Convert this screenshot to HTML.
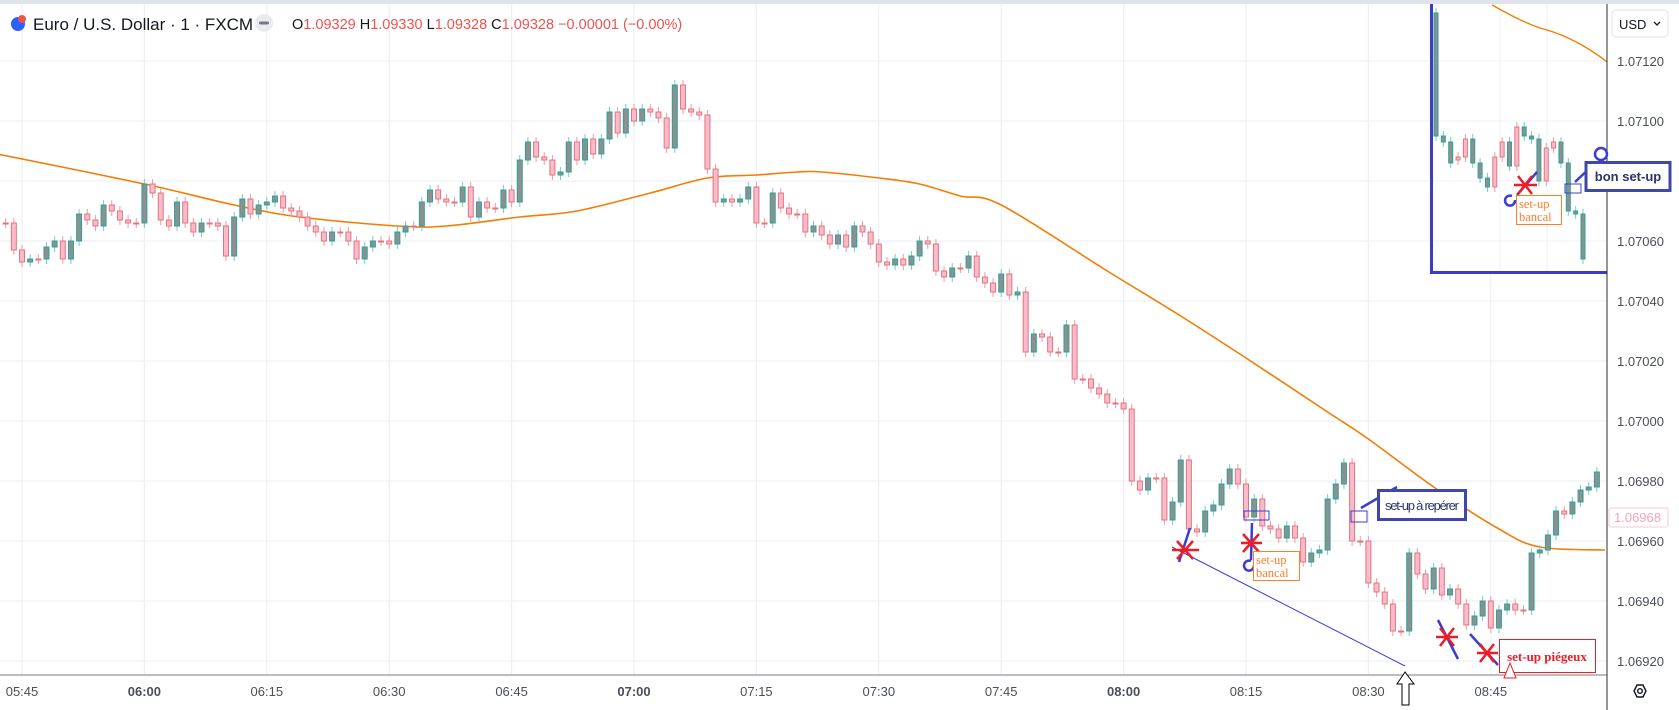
<!DOCTYPE html>
<html><head><meta charset="utf-8"><style>
html,body{margin:0;padding:0;background:#fff;width:1679px;height:710px;overflow:hidden;font-family:"Liberation Sans",sans-serif}
svg{display:block}
</style></head><body>
<svg id="chart" width="1679" height="710" viewBox="0 0 1679 710" xmlns="http://www.w3.org/2000/svg">
<rect x="0" y="0" width="1679" height="710" fill="#fff"/>
<g id="grid"></g>
<g id="ma"></g>
<g id="candles"></g>
<g id="inset"></g>
<g id="axes"></g>
<g id="annot"></g>
<rect x="0" y="0" width="1679" height="4" fill="#e0e3eb"/>
<g>
 <circle cx="18" cy="24" r="7" fill="#2962ff"/>
 <circle cx="22" cy="19" r="4" fill="#ef5350"/>
 <text x="33" y="30" font-size="17" fill="#131722">Euro / U.S. Dollar · 1 · FXCM</text>
 <circle cx="264" cy="23" r="9" fill="#e9ebef"/>
 <rect x="259" y="21.5" width="10" height="3" rx="1.5" fill="#787b86"/>
 <text x="292" y="29" font-size="14.5" fill="#131722">O<tspan fill="#ef5350">1.09329</tspan> H<tspan fill="#ef5350">1.09330</tspan> L<tspan fill="#ef5350">1.09328</tspan> C<tspan fill="#ef5350">1.09328 −0.00001 (−0.00%)</tspan></text>
</g>
<g>
 <rect x="1612" y="10" width="56" height="27" rx="4" fill="#fff" stroke="#e0e3eb"/>
 <text x="1619" y="29" font-size="13" fill="#131722">USD</text>
 <path d="M1654 22 l3 3 l3 -3" fill="none" stroke="#131722" stroke-width="1.3"/>
</g>
</svg>
<script>
const closes=[1.07066,1.07057,1.07053,1.07054,1.07054,1.07058,1.07060,1.07054,1.07060,1.07069,1.07067,1.07065,1.07072,1.07070,1.07067,1.07066,1.07066,1.07079,1.07076,1.07067,1.07065,1.07073,1.07066,1.07063,1.07066,1.07066,1.07065,1.07055,1.07068,1.07074,1.07069,1.07072,1.07073,1.07075,1.07071,1.07070,1.07068,1.07065,1.07063,1.07060,1.07063,1.07063,1.07060,1.07054,1.07058,1.07060,1.07060,1.07059,1.07063,1.07065,1.07065,1.07073,1.07077,1.07074,1.07073,1.07073,1.07078,1.07068,1.07073,1.07071,1.07071,1.07077,1.07073,1.07087,1.07093,1.07088,1.07087,1.07082,1.07083,1.07093,1.07087,1.07094,1.07089,1.07094,1.07103,1.07096,1.07104,1.07100,1.07104,1.07103,1.07101,1.07091,1.07112,1.07104,1.07103,1.07102,1.07084,1.07073,1.07074,1.07073,1.07074,1.07078,1.07066,1.07066,1.07076,1.07071,1.07069,1.07069,1.07063,1.07065,1.07062,1.07059,1.07062,1.07058,1.07065,1.07063,1.07059,1.07053,1.07052,1.07054,1.07052,1.07055,1.07060,1.07059,1.07050,1.07048,1.07051,1.07051,1.07055,1.07048,1.07046,1.07043,1.07049,1.07042,1.07043,1.07023,1.07029,1.07028,1.07023,1.07023,1.07032,1.07014,1.07014,1.07011,1.07009,1.07006,1.07006,1.07004,1.06980,1.06977,1.06981,1.06981,1.06967,1.06973,1.06987,1.06964,1.06963,1.06970,1.06972,1.06979,1.06984,1.06979,1.06968,1.06974,1.06965,1.06964,1.06961,1.06965,1.06961,1.06953,1.06956,1.06957,1.06974,1.06979,1.06986,1.06960,1.06960,1.06946,1.06943,1.06939,1.06930,1.06930,1.06956,1.06949,1.06944,1.06951,1.06942,1.06944,1.06939,1.06932,1.06935,1.06940,1.06931,1.06937,1.06939,1.06937,1.06937,1.06956,1.06957,1.06962,1.06970,1.06969,1.06973,1.06977,1.06978,1.06983];
const firstOpen=1.07066;
const firstMinute=-2; // minutes after 05:45
const maMinutes=[-3,15,26,34,46,52,61,68,77,84,90,95,98,105,110,115,120,133,142,150,160,165,173,181,186,194];
const maValues=[1.07089,1.07079,1.07072,1.07068,1.07065,1.07065,1.07068,1.07070,1.07076,1.07081,1.07082,1.07083,1.07083,1.07081,1.07079,1.07075,1.07072,1.07050,1.07035,1.07021,1.07003,1.06994,1.06978,1.06964,1.06958,1.06957];
const timeLabels=["05:45","06:00","06:15","06:30","06:45","07:00","07:15","07:30","07:45","08:00","08:15","08:30","08:45"];
const priceTicks=[1.07120,1.07100,1.07080,1.07060,1.07040,1.07020,1.07000,1.06980,1.06960,1.06940,1.06920];
const insetOpens=[1.07095,1.07093,1.07086,1.07088,1.07094,1.07086,1.07081,1.07078,1.07088,1.07093,1.07085,1.07098,1.07095,1.07094,1.07080,1.07091,1.07093,1.07086,1.07070,1.07069,1.07054];
const insetCloses=[1.07136,1.07095,1.07093,1.07087,1.07088,1.07094,1.07086,1.07081,1.07078,1.07088,1.07093,1.07085,1.07098,1.07095,1.07094,1.07080,1.07091,1.07093,1.07086,1.07070,1.07069];
const lastPriceLabel="1.06968";

const NS="http://www.w3.org/2000/svg";
const X=m=>22+m*8.16;
const Y=p=>61+(1.0712-p)*300000;
function mk(tag,attrs,parent,text){const e=document.createElementNS(NS,tag);for(const k in attrs)e.setAttribute(k,attrs[k]);if(text!==undefined)e.textContent=text;parent.appendChild(e);return e;}
const grid=document.getElementById('grid'),axes=document.getElementById('axes'),cg=document.getElementById('candles'),mag=document.getElementById('ma'),ins=document.getElementById('inset'),an=document.getElementById('annot');

priceTicks.forEach(p=>{const l=mk('line',{x1:0,x2:1607,y1:Y(p),y2:Y(p),stroke:'#edf1f5','stroke-width':1.2},grid);

});
timeLabels.forEach((t,i)=>{const l=mk('line',{x1:X(i*15),x2:X(i*15),y1:4,y2:675,stroke:'#edf1f5','stroke-width':1.2},grid);

});

// MA (Catmull-Rom smoothing)
const pts=maMinutes.map((m,i)=>[X(m),Y(maValues[i])]);
let d='M'+pts[0][0].toFixed(1)+' '+pts[0][1].toFixed(1);
for(let i=0;i<pts.length-1;i++){const p0=pts[Math.max(0,i-1)],p1=pts[i],p2=pts[i+1],p3=pts[Math.min(pts.length-1,i+2)];
 const c1=[p1[0]+(p2[0]-p0[0])/6,p1[1]+(p2[1]-p0[1])/6],c2=[p2[0]-(p3[0]-p1[0])/6,p2[1]-(p3[1]-p1[1])/6];
 d+=' C'+c1[0].toFixed(1)+' '+c1[1].toFixed(1)+' '+c2[0].toFixed(1)+' '+c2[1].toFixed(1)+' '+p2[0].toFixed(1)+' '+p2[1].toFixed(1);}
const mp=mk('path',{d:d,fill:'none',stroke:'#f57c00','stroke-width':1.6},mag);



function candle(parent,x,o,c,w,name){
 const up=c>o;const top=Y(Math.max(o,c)),bot=Y(Math.min(o,c));
 const g=mk('g',{},parent);
 
 
 const col=up?'#26a69a':'#e5737d';
 mk('line',{x1:x,x2:x,y1:top-5,y2:bot+5,stroke:up?'#7fc9c0':'#ef9aa4','stroke-width':1},g);
 mk('rect',{x:x-w/2,y:top,width:w,height:Math.max(1,bot-top),fill:up?'#8f8f8f':'#f8bbcb',stroke:col,'stroke-width':1},g);
}
closes.forEach((c,i)=>{const o=i?closes[i-1]:firstOpen;candle(cg,X(firstMinute+i),o,c,5,'candle');});

// inset
mk('rect',{x:1430,y:4,width:177,height:269,fill:'#fff'},ins);
[1.07120,1.07100,1.07080,1.07060].forEach(p=>mk('line',{x1:1432,x2:1607,y1:Y(p),y2:Y(p),stroke:'#edf1f5'},ins));
mk('line',{x1:1500,x2:1500,y1:4,y2:272,stroke:'#edf1f5'},ins);
mk('line',{x1:1547,x2:1547,y1:4,y2:272,stroke:'#edf1f5'},ins);
mk('path',{d:'M1492 5 C1505 12 1520 21 1540 28 C1555 32 1565 36 1580 44 C1592 51 1600 56 1607 62',fill:'none',stroke:'#f57c00','stroke-width':1.4},ins);
insetOpens.forEach((o,i)=>candle(ins,1436+i*7.35,o,insetCloses[i],4,'inset-candle'));
mk('path',{d:'M1431.5 4 V272.5 H1607',fill:'none',stroke:'#3b3bc4','stroke-width':3},ins);

// axes
mk('line',{x1:0,x2:1607,y1:675,y2:675,stroke:'#787b86','stroke-width':1},axes);
mk('line',{x1:1607,x2:1607,y1:4,y2:710,stroke:'#2a2e39','stroke-width':1},axes);
priceTicks.forEach(p=>{const t=mk('text',{x:1617,y:Y(p)+5,'font-size':13,fill:'#4a4e58'},axes,p.toFixed(5));

});
timeLabels.forEach((s,i)=>{const t=mk('text',{x:X(i*15),y:696,'font-size':13,fill:'#4a4e58','text-anchor':'middle','font-weight':s.endsWith(':00')?'bold':'normal'},axes,s);

});
const lb=mk('rect',{x:1609,y:508,width:59,height:19,rx:2,fill:'#fff',stroke:'#f8c8d4'},axes);


const lt=mk('text',{x:1614,y:522,'font-size':13,fill:'#f4a6b8'},axes,lastPriceLabel);


const gear=mk('g',{},axes);


mk('polygon',{points:'1634,691 1637,685 1643,685 1646,691 1643,697 1637,697',fill:'none',stroke:'#131722','stroke-width':1.4},gear);
mk('circle',{cx:1640,cy:691,r:2.3,fill:'none',stroke:'#131722','stroke-width':1.4},gear);
</script>
<svg style="position:absolute;left:0;top:0" width="1679" height="710">
 <line x1="1172" y1="547" x2="1405" y2="666" stroke="#3b3bd6" stroke-width="1"/>
 <g>
  <line x1="1179" y1="562" x2="1190" y2="528" stroke="#3b3bd6" stroke-width="2.5"/>
  <path d="M1172 550 H1199 M1177 541 L1193 559 M1193 541 L1177 559" stroke="#ee1c25" stroke-width="2.5"/>
 </g>
 <g>
  <line x1="1252" y1="523" x2="1251" y2="560" stroke="#3b3bd6" stroke-width="2.5"/>
  <path d="M1251 561 a5 5 0 1 0 3 4" fill="none" stroke="#3b3bd6" stroke-width="2.5"/>
  <path d="M1241 543 H1262 M1243 534 L1259 552 M1259 534 L1243 552" stroke="#ee1c25" stroke-width="2.5"/>
  <rect x="1244" y="511" width="25" height="9" fill="none" stroke="#3b3bd6" stroke-width="1"/>
 </g>
 <g>
  <rect x="1253.5" y="551.5" width="46" height="29" fill="#fff" stroke="#ff7f27" stroke-width="1"/>
  <text x="1256" y="564" font-family="Liberation Serif, serif" font-size="12.5" fill="#ff7f27">set-up</text>
  <text x="1256" y="577" font-family="Liberation Serif, serif" font-size="12.5" fill="#ff7f27">bancal</text>
 </g>
 <rect x="1351" y="511" width="16" height="11" fill="none" stroke="#3b3bd6" stroke-width="1"/>
 <line x1="1361" y1="508" x2="1397" y2="487" stroke="#3b3bd6" stroke-width="2.5"/>
 <g>
  <rect x="1378.5" y="490.5" width="87" height="29" fill="#fff" stroke="#3f48a8" stroke-width="3"/>
  <text x="1422" y="510" font-family="Liberation Sans Narrow, Liberation Sans, sans-serif" font-size="13" fill="#2b3566" text-anchor="middle" textLength="74">set-up à repérer</text>
 </g>
 <g>
  <line x1="1438" y1="620" x2="1458" y2="659" stroke="#3b3bd6" stroke-width="2.5"/>
  <path d="M1436 637 H1458 M1440 628 L1454 646 M1454 628 L1440 646" stroke="#ee1c25" stroke-width="2.5"/>
 </g>
 <g>
  <line x1="1470" y1="634" x2="1498" y2="665" stroke="#3b3bd6" stroke-width="2.5"/>
  <path d="M1477 653 H1498 M1480 644 L1494 662 M1494 644 L1480 662" stroke="#ee1c25" stroke-width="2.5"/>
 </g>
 <g>
  <rect x="1499.5" y="639.5" width="96" height="33" fill="#fff" stroke="#ee1c25" stroke-width="1"/>
  <text x="1547" y="661" font-family="Liberation Serif, serif" font-size="13" font-weight="bold" fill="#ee1c25" text-anchor="middle">set-up piégeux</text>
  <path d="M1510 663 L1504 678 H1516 Z" fill="#fff" stroke="#ee1c25" stroke-width="1"/>
 </g>
 <path d="M1405 672 L1397 684 H1402 V705 H1409 V684 H1414 Z" fill="#fff" stroke="#000" stroke-width="1"/>
 <g>
  <line x1="1517" y1="195" x2="1537" y2="172" stroke="#3b3bd6" stroke-width="2.5"/>
  <path d="M1512 196 a5 5 0 1 0 3 4" fill="none" stroke="#3b3bd6" stroke-width="2.5"/>
  <path d="M1514 185 H1537 M1518 176 L1532 194 M1532 176 L1518 194" stroke="#ee1c25" stroke-width="2.5"/>
  <rect x="1516.5" y="195.5" width="45" height="29" fill="#fff" stroke="#ff7f27" stroke-width="1"/>
  <text x="1519" y="208" font-family="Liberation Serif, serif" font-size="12.5" fill="#ff7f27">set-up</text>
  <text x="1519" y="221" font-family="Liberation Serif, serif" font-size="12.5" fill="#ff7f27">bancal</text>
  <rect x="1565" y="184" width="16" height="9" fill="none" stroke="#3b3bd6" stroke-width="1"/>
  <line x1="1575" y1="182" x2="1593" y2="165" stroke="#3b3bd6" stroke-width="2.5"/>
  <circle cx="1601" cy="154" r="6" fill="none" stroke="#3b3bd6" stroke-width="2.5"/>
  <rect x="1586" y="162.5" width="84" height="28" fill="#fff" stroke="#3f48a8" stroke-width="3"/>
  <text x="1628" y="181" font-size="13" font-weight="bold" fill="#2b3566" text-anchor="middle">bon set-up</text>
 </g>
</svg>
</body></html>
